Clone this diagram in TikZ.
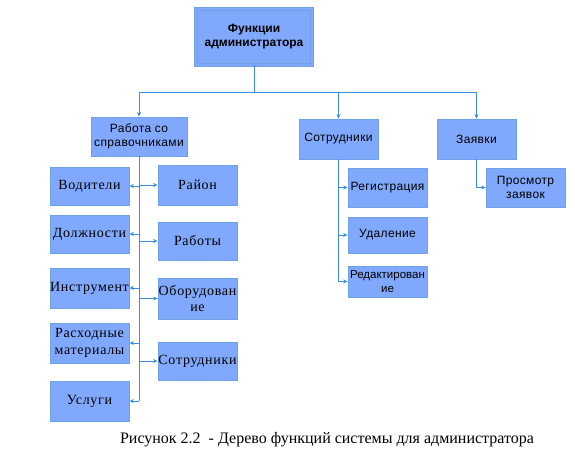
\documentclass[tikz,border=0pt]{standalone}
\usepackage{fontspec}
\setmainfont{Liberation Serif}
\newfontfamily\arialfont[LetterSpace=3]{Liberation Sans}
\newfontfamily\arialbold{Liberation Sans}
\newfontfamily\timesfont[LetterSpace=5]{Liberation Serif}
\usetikzlibrary{arrows.meta}
\definecolor{boxfill}{RGB}{128,168,252}
\definecolor{boxline}{RGB}{110,162,228}
\definecolor{linkblue}{RGB}{60,140,215}

\begin{document}
\begin{tikzpicture}[x=1pt,y=-1pt,
  box/.style={draw=boxline,fill=boxfill,line width=0.8pt,minimum width=79pt,inner sep=0pt,align=center},
  sansbox/.style={box,font=\arialfont\fontsize{12}{13.5}\selectfont},
  serifbox/.style={box,font=\timesfont\fontsize{14}{16.5}\selectfont},
  link/.style={draw=linkblue,line width=0.7pt},
  arr/.style={link,-{Stealth[length=4.5pt,width=4pt]}}]
\useasboundingbox (0,0) rectangle (575,460);

  \node[box,double=boxfill,double distance=1.5pt,minimum width=116pt,minimum height=56pt,
    font=\arialbold\bfseries\fontsize{12}{14}\selectfont] (adm) at (254,37) {Функции\\администратора};
  \coordinate (bus) at (254,92);

  \node[sansbox,minimum width=96pt,minimum height=39pt] (spr) at (139,136.5) {Работа со\\справочниками};
  \node[sansbox,minimum height=40pt] (sot) at (338.5,139) {Сотрудники};
  \node[sansbox,minimum height=40pt] (zay) at (476.5,139) {Заявки};

  \node[serifbox,minimum height=38pt] (vod) at (89.5,186) {Водители};
  \node[serifbox,minimum height=38pt] (dol) at (89.5,234) {Должности};
  \node[serifbox,minimum height=40pt] (ins) at (89.5,288) {Инструмент};
  \node[serifbox,minimum height=40pt] (ras) at (89.5,343) {Расходные\\материалы};
  \node[serifbox,minimum height=40pt] (usl) at (89.5,401) {Услуги};

  \node[serifbox,minimum height=40pt] (ray) at (197.5,185) {Район};
  \node[serifbox,minimum height=38pt] (rab) at (197.5,241) {Работы};
  \node[serifbox,minimum height=41pt] (obo) at (197.5,298.5) {Оборудован\\ие};
  \node[serifbox,minimum height=38pt] (srd) at (197.5,361) {Сотрудники};

  \node[sansbox,minimum height=39pt] (reg) at (387.5,187.5) {Регистрация};
  \node[sansbox,minimum height=36pt] (uda) at (387.5,235) {Удаление};
  \node[sansbox,minimum height=31pt,font=\arialbold\fontsize{11.5}{13.5}\selectfont] (red) at (387.5,281.5) {Редактирован\\ие};

  \node[sansbox,minimum height=39pt] (pro) at (525.5,187.5) {Просмотр\\заявок};

  \node[font=\fontsize{16}{18}\selectfont] (cap) at (327,440) {Рисунок 2.2 \ - Дерево функций системы для администратора};

  \draw[link] (adm.south) -- (bus);
  \draw[arr] (bus) -| (spr.north);
  \draw[arr] (bus) -| (sot.north);
  \draw[arr] (bus) -| (zay.north);

  \draw[link] (spr.south) -- (spr.south |- usl.east);
  \foreach \n in {vod,dol,ins,ras,usl}
    \draw[arr] (spr.south |- \n.east) -- (\n.east);
  \foreach \n in {ray,rab,obo,srd}
    \draw[arr] (spr.south |- \n.west) -- (\n.west);

  \draw[link] (sot.south) -- (sot.south |- red.west);
  \foreach \n in {reg,uda,red}
    \draw[arr] (sot.south |- \n.west) -- (\n.west);

  \draw[link] (zay.south) -- (zay.south |- pro.west);
  \draw[arr] (zay.south |- pro.west) -- (pro.west);
\end{tikzpicture}
\end{document}
